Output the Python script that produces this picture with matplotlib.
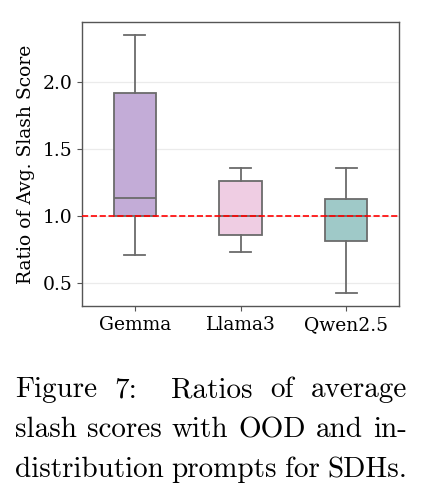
import matplotlib
matplotlib.use("Agg")
import matplotlib.pyplot as plt

models = ["Gemma", "Llama3", "Qwen2.5"]
whislo = [0.71, 0.735, 0.43]
q1 = [1.0, 0.86, 0.815]
med = [1.135, 1.0, 1.0]
q3 = [1.92, 1.265, 1.13]
whishi = [2.35, 1.36, 1.36]
colors = ["#c3acd7", "#efcde3", "#9fc9c8"]
yticks = [0.5, 1.0, 1.5, 2.0]
caption_lines = [
    "Figure 7:  Ratios of average",
    "slash scores with OOD and in-",
    "distribution prompts for SDHs.",
]

fig = plt.figure(figsize=(4.25, 4.94), dpi=100)
ax = fig.add_axes([0.193, 0.3806, 0.746, 0.575])

stats = [dict(med=m, q1=a, q3=b, whislo=lo, whishi=hi, fliers=[], label=n)
         for n, lo, a, m, b, hi in zip(models, whislo, q1, med, q3, whishi)]
edge = "#6b6b6b"
bp = ax.bxp(stats, positions=range(len(models)), widths=0.4, patch_artist=True,
            showfliers=False,
            boxprops=dict(edgecolor=edge, linewidth=1.3),
            medianprops=dict(color=edge, linewidth=1.3),
            whiskerprops=dict(color=edge, linewidth=1.3),
            capprops=dict(color=edge, linewidth=1.3))
for patch, c in zip(bp["boxes"], colors):
    patch.set_facecolor(c)

ax.axhline(1.0, color="red", linestyle="--", linewidth=1.2, zorder=5)

fs = 13.5
ax.set_xlim(-0.5, 2.5)
ax.set_ylim(0.33, 2.45)
ax.set_yticks(yticks)
ax.set_yticklabels([f"{v:.1f}" for v in yticks], family="DejaVu Serif", fontsize=fs)
ax.set_xticks(range(len(models)))
ax.set_xticklabels(models, family="DejaVu Serif", fontsize=fs)
ax.yaxis.grid(True, color="#ebebeb", linewidth=0.9)
ax.set_axisbelow(True)
ax.set_ylabel("Ratio of Avg. Slash Score", family="DejaVu Serif", fontsize=fs,
              labelpad=5)
for s in ax.spines.values():
    s.set_color("#555555")
    s.set_linewidth(1.0)
ax.tick_params(colors="#555555", labelcolor="black", length=3.5)

# justified caption (word positions computed from measured widths)
fig.canvas.draw()
renderer = fig.canvas.get_renderer()
x0, x1 = 15, 407
W, H = fig.get_size_inches() * fig.dpi
baselines = [397, 437, 477]
for line, yb in zip(caption_lines, baselines):
    words = line.split(" ")
    texts = []
    widths = []
    for w in words:
        if w == "":
            texts.append(None)
            widths.append(0.0)
            continue
        t = fig.text(0, 1 - yb / H, w, family="cmr10", fontsize=21,
                     va="baseline", ha="left")
        texts.append(t)
        widths.append(t.get_window_extent(renderer).width)
    gap = (x1 - x0 - sum(widths)) / (len(words) - 1)
    x = x0
    for t, wd in zip(texts, widths):
        if t is not None:
            t.set_x(x / W)
        x += wd + gap

fig.savefig("out.png", dpi=100)
